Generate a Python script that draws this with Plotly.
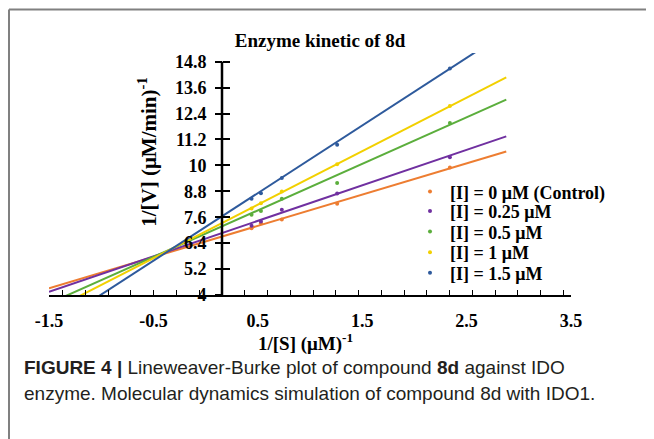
import plotly.graph_objects as go

# ---------------- data ----------------
series_names = ["[I] = 0 μM (Control)", "[I] = 0.25 μM", "[I] = 0.5 μM", "[I] = 1 μM", "[I] = 1.5 μM"]
series_colors = ["#ED7D31", "#7030A0", "#5BAE3C", "#F2D000", "#2E5A9C"]

inv_s = [0.44, 0.53, 0.73, 1.26, 2.34]          # 1/[S]
inv_v_control = [7.09, 7.32, 7.50, 8.22, 9.90]
inv_v_025 = [7.20, 7.40, 7.94, 8.70, 10.37]
inv_v_05 = [7.71, 7.89, 8.45, 9.18, 11.96]
inv_v_1 = [8.00, 8.25, 8.79, 10.05, 12.75]
inv_v_15 = [8.45, 8.71, 9.41, 10.95, 14.48]
inv_v = [inv_v_control, inv_v_025, inv_v_05, inv_v_1, inv_v_15]

# linear trend lines (slope, intercept) and their x extent
trend_slope = [1.445, 1.643, 2.153, 2.476, 3.13]
trend_intercept = [6.48, 6.61, 6.84, 6.94, 7.15]
trend_x = [-1.5, 2.88]

x_tick_vals = [-1.5, -0.5, 0.5, 1.5, 2.5, 3.5]
x_tick_text = ["-1.5", "-0.5", "0.5", "1.5", "2.5", "3.5"]
y_tick_vals = [4, 5.2, 6.4, 7.6, 8.8, 10, 11.2, 12.4, 13.6, 14.8]
y_tick_text = ["4", "5.2", "6.4", "7.6", "8.8", "10", "11.2", "12.4", "13.6", "14.8"]

title_text = "Enzyme kinetic of 8d"
x_title = "1/[S] (μM)<sup>-1</sup>"
y_title = "1/[V] (μM/min)<sup>-1</sup>"
caption_1 = "<b>FIGURE 4 |</b> Lineweaver-Burke plot of compound <b>8d</b> against IDO"
caption_2 = "enzyme. Molecular dynamics simulation of compound 8d with IDO1."

# ---------------- layout geometry (screen pixels; page body has an 8px margin) ----------------
OFF = 8
W, H = 654, 439
X_LEFT, X_RIGHT = 49, 571     # screen px of x = -1.5 and x = 3.5
Y_BOTTOM, Y_TOP = 295, 53.4   # screen px of y = 4 and y = 15.2
L = X_LEFT - OFF
R = W - (X_RIGHT - OFF)
T = Y_TOP - OFF
B = H - (Y_BOTTOM - OFF)
PW, PH = W - L - R, H - T - B


def px(xs):
    return (xs - X_LEFT) / PW


def py(ys):
    return (Y_BOTTOM - ys) / PH


SERIF = "Liberation Serif, Times New Roman, serif"
yaxis_pos = px(222)
yaxis_x = -1.5 + 5 * yaxis_pos       # data x where the vertical axis sits

fig = go.Figure()

for name, col, m, b in zip(series_names, series_colors, trend_slope, trend_intercept):
    fig.add_trace(go.Scatter(
        x=trend_x, y=[b + m * xv for xv in trend_x], mode="lines",
        line=dict(color=col, width=2), showlegend=False, hoverinfo="skip"))

legend_ids = ["legend", "legend2", "legend3", "legend4", "legend5"]
for name, col, ys, lg in zip(series_names, series_colors, inv_v, legend_ids):
    fig.add_trace(go.Scatter(
        x=inv_s, y=ys, mode="markers", name=name, legend=lg,
        marker=dict(color=col, size=4)))

# overlay axis only used for the crossing y ticks
fig.add_trace(go.Scatter(x=[None], y=[None], yaxis="y2", showlegend=False, hoverinfo="skip"))

legend_rows = [192, 211.5, 232, 252.5, 273]
leg_style = dict(font=dict(family=SERIF, size=18, color="black", weight="bold"),
                 bgcolor="rgba(0,0,0,0)", itemwidth=30, borderwidth=0,
                 xanchor="left", yanchor="middle")
legends = {}
for lg, row in zip(legend_ids, legend_rows):
    legends[lg] = dict(x=px(410), y=py(row), **leg_style)

fig.update_layout(
    width=W, height=H,
    margin=dict(l=L, r=R, t=T, b=B),
    paper_bgcolor="white", plot_bgcolor="white",
    title=dict(text=title_text, x=px(320), xref="paper", xanchor="center",
               y=1 - (40 - OFF) / H, yref="container", yanchor="middle",
               font=dict(family=SERIF, size=19, color="black", weight="bold")),
    xaxis=dict(range=[-1.5, 3.5], showgrid=False, zeroline=False,
               showline=True, linecolor="black", linewidth=2,
               tickmode="array", tickvals=x_tick_vals, ticktext=x_tick_text,
               ticks="",
               minor=dict(ticks="inside", ticklen=5, tickwidth=1, tickcolor="black",
                          tickmode="linear", tick0=yaxis_x, dtick=0.218),
               ticklabelstandoff=8,
               tickfont=dict(family=SERIF, size=18, color="black", weight="bold")),
    yaxis=dict(range=[4, 15.2], showgrid=False, zeroline=False, showline=False,
               anchor="free", position=yaxis_pos,
               tickmode="array", tickvals=y_tick_vals, ticktext=y_tick_text,
               ticks="outside", ticklen=7, tickwidth=2, tickcolor="black",
               ticklabelstandoff=5,
               tickfont=dict(family=SERIF, size=18, color="black", weight="bold")),
    yaxis2=dict(range=[4, 15.2], overlaying="y", anchor="free", position=yaxis_pos,
                showgrid=False, zeroline=False, showline=False, showticklabels=False,
                tickmode="array", tickvals=y_tick_vals,
                ticks="inside", ticklen=7, tickwidth=2, tickcolor="black"),
    showlegend=True,
    **legends,
)

# y-axis line (stops at the last tick like the original)
fig.add_shape(type="line", xref="paper", yref="y", x0=yaxis_pos, x1=yaxis_pos,
              y0=4, y1=14.8, line=dict(color="black", width=2.5))
# outer frame lines of the figure panel
fig.add_shape(type="line", xref="paper", yref="paper", x0=px(9), x1=px(660),
              y0=py(10), y1=py(10), line=dict(color="#808080", width=2))
fig.add_shape(type="line", xref="paper", yref="paper", x0=px(9), x1=px(9),
              y0=py(10), y1=py(450), line=dict(color="#808080", width=2))

# axis titles
fig.add_annotation(text=y_title, xref="paper", yref="paper", x=px(148), y=py(152),
                   textangle=-90, showarrow=False, xanchor="center", yanchor="middle",
                   font=dict(family=SERIF, size=21, color="black", weight="bold"))
fig.add_annotation(text=x_title, xref="paper", yref="paper", x=px(305), y=py(342),
                   showarrow=False, xanchor="center", yanchor="middle",
                   font=dict(family=SERIF, size=19, color="black", weight="bold"))
# caption
CAP = "Liberation Sans, Arial, sans-serif"
fig.add_annotation(text=caption_1, xref="paper", yref="paper", x=px(22), y=py(367),
                   showarrow=False, xanchor="left", yanchor="middle",
                   font=dict(family=CAP, size=19, color="#231f20"))
fig.add_annotation(text=caption_2, xref="paper", yref="paper", x=px(22), y=py(393),
                   showarrow=False, xanchor="left", yanchor="middle",
                   font=dict(family=CAP, size=19, color="#231f20"))

fig.write_html("out.html")
